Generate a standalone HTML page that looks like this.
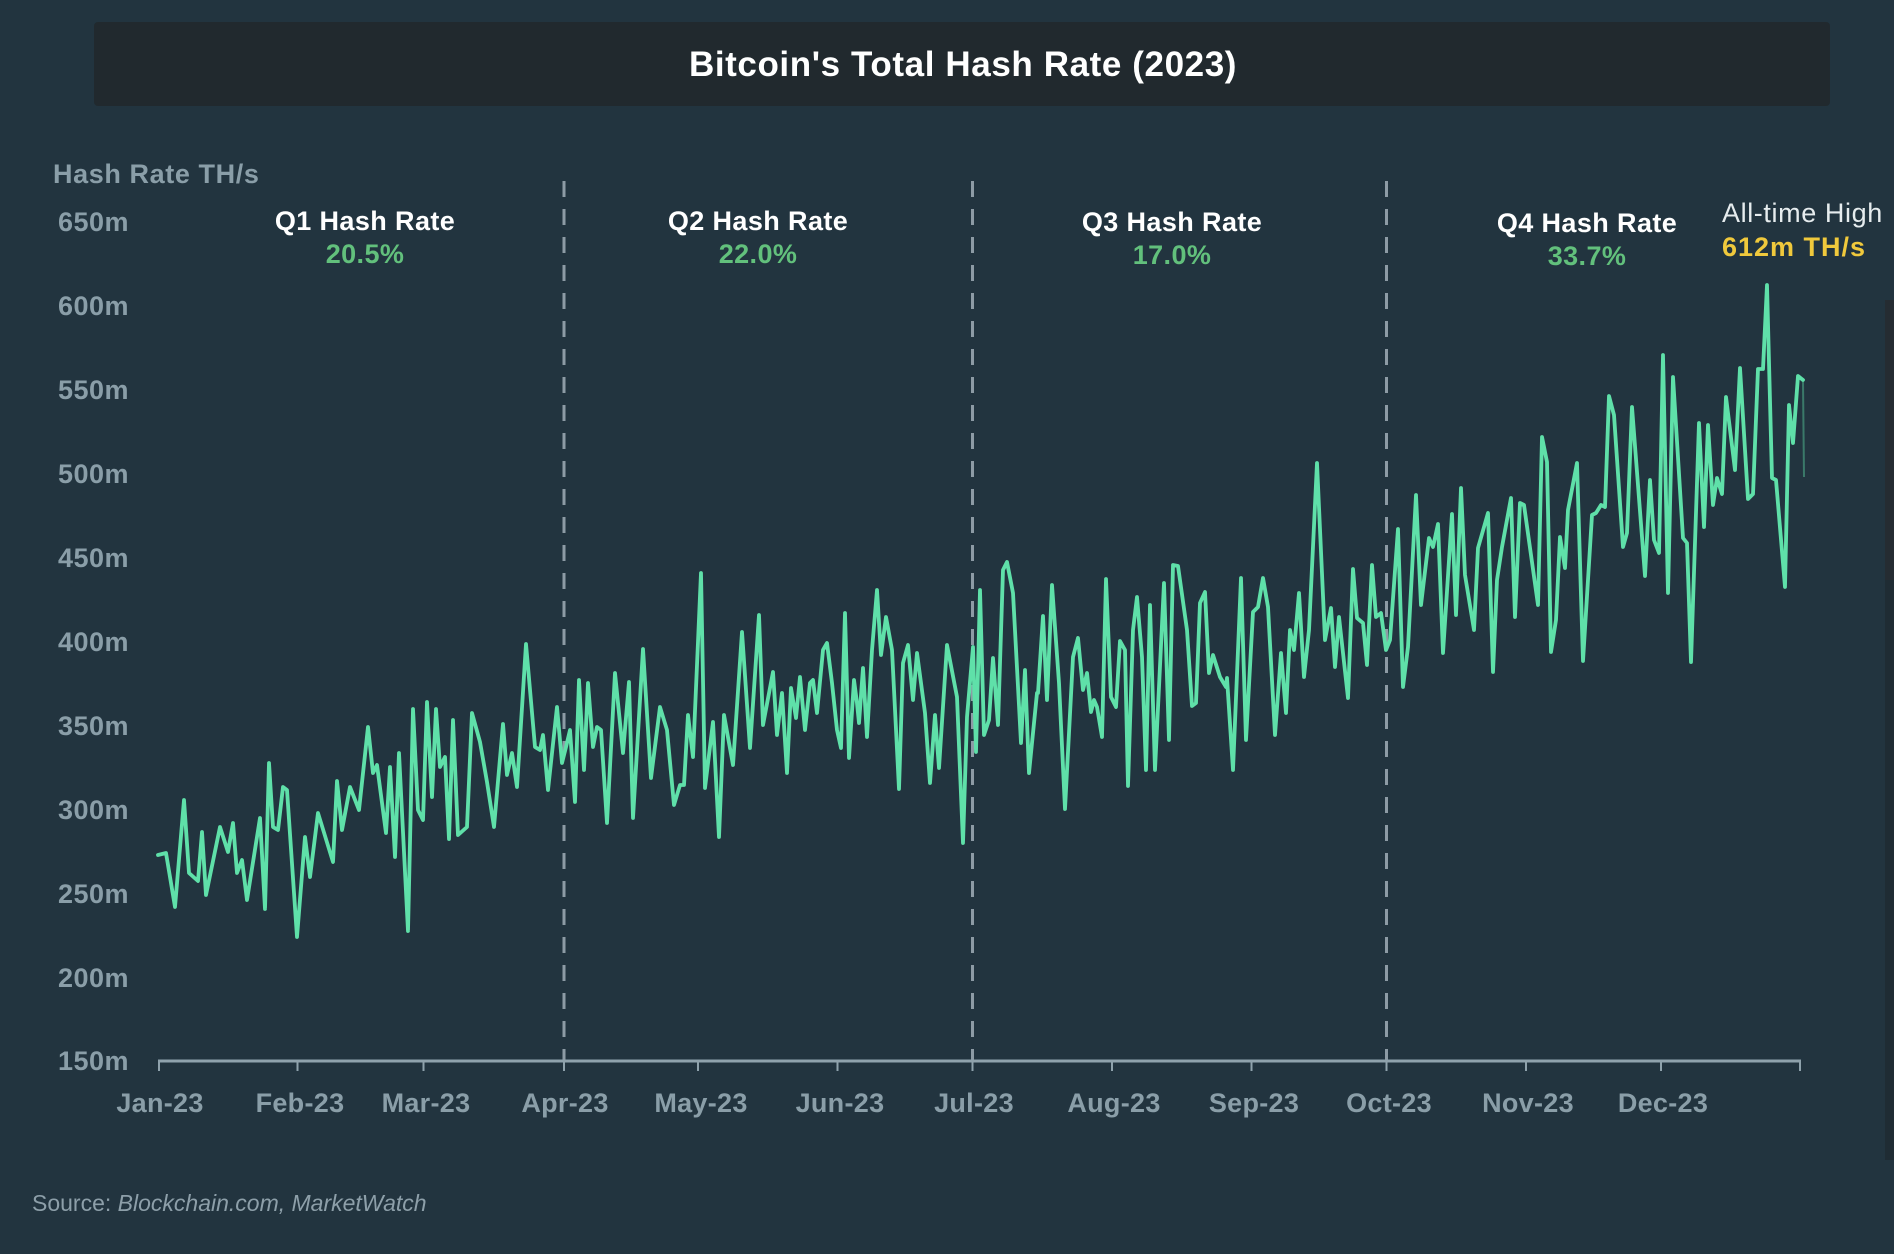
<!DOCTYPE html>
<html>
<head>
<meta charset="utf-8">
<style>
  html, body { margin: 0; padding: 0; background: #22343f; }
  body { width: 1894px; height: 1254px; overflow: hidden; }
  svg { display: block; }
  text { font-family: "Liberation Sans", sans-serif; }
</style>
</head>
<body>
<svg width="1894" height="1254" viewBox="0 0 1894 1254" xmlns="http://www.w3.org/2000/svg">
  <rect x="0" y="0" width="1894" height="1254" fill="#22343f"/>
  <!-- right edge strip -->
  <rect x="1885" y="300" width="9" height="280" fill="#252c32"/>
  <rect x="1885" y="580" width="9" height="580" fill="#1f2c34"/>

  <!-- Title box -->
  <rect x="94" y="22" width="1736" height="84" rx="4" fill="#21292e"/>
  <text x="963" y="76" text-anchor="middle" font-size="35" font-weight="bold" fill="#ffffff" letter-spacing="0.6">Bitcoin's Total Hash Rate (2023)</text>

  <!-- Y axis title -->
  <text x="53" y="183" font-size="27" font-weight="bold" fill="#8a9ea8" letter-spacing="0.6">Hash Rate TH/s</text>

  <!-- Y labels -->
  <g font-size="27" font-weight="bold" fill="#8a9ea8" text-anchor="end" letter-spacing="0.5">
    <text x="129" y="231">650m</text>
    <text x="129" y="315">600m</text>
    <text x="129" y="399">550m</text>
    <text x="129" y="483">500m</text>
    <text x="129" y="567">450m</text>
    <text x="129" y="651">400m</text>
    <text x="129" y="735">350m</text>
    <text x="129" y="819">300m</text>
    <text x="129" y="903">250m</text>
    <text x="129" y="987">200m</text>
    <text x="129" y="1070">150m</text>
  </g>

  <!-- Quarter dashed lines -->
  <g stroke="#8d9ba5" stroke-width="3" stroke-dasharray="16 12">
    <line x1="564" y1="181" x2="564" y2="1061"/>
    <line x1="972.5" y1="181" x2="972.5" y2="1061"/>
    <line x1="1386.5" y1="181" x2="1386.5" y2="1061"/>
  </g>

  <!-- Quarter labels -->
  <g font-size="27" font-weight="bold" text-anchor="middle" letter-spacing="0.4">
    <text x="365" y="230" fill="#ffffff">Q1 Hash Rate</text>
    <text x="365" y="263" fill="#62c07c">20.5%</text>
    <text x="758" y="230" fill="#ffffff">Q2 Hash Rate</text>
    <text x="758" y="263" fill="#62c07c">22.0%</text>
    <text x="1172" y="231" fill="#ffffff">Q3 Hash Rate</text>
    <text x="1172" y="264" fill="#62c07c">17.0%</text>
    <text x="1587" y="232" fill="#ffffff">Q4 Hash Rate</text>
    <text x="1587" y="265" fill="#62c07c">33.7%</text>
  </g>
  <text x="1722" y="222" font-size="27" fill="#e6ecee" letter-spacing="0.6">All-time High</text>
  <text x="1722" y="256" font-size="27" font-weight="bold" fill="#f0c93c" letter-spacing="1">612m TH/s</text>

  <!-- Axis -->
  <line x1="158" y1="1061" x2="1801" y2="1061" stroke="#8fa2ac" stroke-width="3"/>
  <g stroke="#8fa2ac" stroke-width="2">
    <line x1="159" y1="1061" x2="159" y2="1071"/>
    <line x1="297.5" y1="1061" x2="297.5" y2="1071"/>
    <line x1="423.5" y1="1061" x2="423.5" y2="1071"/>
    <line x1="564" y1="1061" x2="564" y2="1071"/>
    <line x1="698" y1="1061" x2="698" y2="1071"/>
    <line x1="837.5" y1="1061" x2="837.5" y2="1071"/>
    <line x1="972.5" y1="1061" x2="972.5" y2="1071"/>
    <line x1="1112" y1="1061" x2="1112" y2="1071"/>
    <line x1="1251.5" y1="1061" x2="1251.5" y2="1071"/>
    <line x1="1386.5" y1="1061" x2="1386.5" y2="1071"/>
    <line x1="1526" y1="1061" x2="1526" y2="1071"/>
    <line x1="1661" y1="1061" x2="1661" y2="1071"/>
    <line x1="1800" y1="1061" x2="1800" y2="1071"/>
  </g>

  <!-- X labels -->
  <g font-size="27" font-weight="bold" fill="#8a9ea8" text-anchor="middle" letter-spacing="0.3">
    <text x="160" y="1112">Jan-23</text>
    <text x="300" y="1112">Feb-23</text>
    <text x="426" y="1112">Mar-23</text>
    <text x="565" y="1112">Apr-23</text>
    <text x="701" y="1112">May-23</text>
    <text x="840" y="1112">Jun-23</text>
    <text x="974" y="1112">Jul-23</text>
    <text x="1114" y="1112">Aug-23</text>
    <text x="1254" y="1112">Sep-23</text>
    <text x="1389" y="1112">Oct-23</text>
    <text x="1528" y="1112">Nov-23</text>
    <text x="1663" y="1112">Dec-23</text>
  </g>

  <!-- Data line -->
  <polyline fill="none" stroke="#5fe0a9" stroke-width="3.8" stroke-linejoin="round" stroke-linecap="round" points="
158,855 166,853 175,907 184,800 189,873 198,881 202,832 206,895 220,827 228,852 233,823 237,873 242,860 247,900 260,818 265,909 269,763 273,827 278,830 283,787 287,790 297,937 305,837 310,877 318,813 333,862 337,781 342,830 350,787 359,810 368,727 373,773 377,765 386,833 390,767 395,857 399,753 408,931 413,709 418,810 423,820 427,702 432,797 436,709 440,767 445,757 449,839 453,720 458,835 467,827 472,713 480,742
487,782 494,827 503,724 507,775 512,753 517,787 526,644 535,747 540,750 543,735 548,790 557,707 562,763 566,747 570,730 575,802 579,680 584,770 588,683 593,747 597,727 601,730 607,823 615,673 623,753 629,682 633,818 643,649 651,778 660,707 667,730 674,805 680,785 684,785 688,715 693,757 701,573 705,788 713,722 719,837 724,715 733,765 742,632 750,748 759,615 763,725 773,672 777,735 782,693 787,773 791,688 796,718 800,677 805,730
810,683 813,680 817,713 823,650 827,643 832,683 837,730 841,748 845,613 849,758 854,680 857,703 859,723 863,668 867,737 872,650 877,590 881,655 886,617 892,650 899,789 903,663 908,645 913,700 917,653 925,713 930,783 935,715 939,768 947,645 957,697 963,843 967,717 973,647 976,752 980,590 984,735 989,720 993,658 998,725 1003,570 1007,562 1013,593 1021,743 1025,670 1029,773 1037,693 1038,693 1043,616 1047,700 1052,585 1059,683 1065,809 1073,657 1078,638 1083,690 1087,673 1091,712 1094,700 1097,707 1102,737 1106,579 1111,697 1116,707 1120,641 1125,650 1128,786 1133,630 1137,597 1142,657 1146,770
1150,605 1155,770 1164,583 1169,740 1173,565 1178,566 1187,630 1192,706 1196,703 1200,603 1205,592 1209,673 1213,655 1220,677 1226,687 1227,678 1233,770 1241,578 1246,740 1253,612 1258,607 1263,578 1268,607 1275,735 1281,653 1286,713 1290,630 1294,650 1299,593 1304,677 1309,630 1317,463 1325,640 1331,608 1335,667 1339,617 1348,698 1353,569 1357,618 1363,623 1367,665 1372,565 1376,617 1381,613 1386,650 1390,640 1398,529 1403,687 1408,647 1416,495 1421,605 1429,538 1433,547 1438,524 1443,653 1452,514 1456,615 1461,488 1465,575 1474,630
1478,548 1488,513 1493,672 1497,580 1502,547 1511,498 1515,617 1520,503 1524,505 1538,605 1542,437 1547,462 1551,652 1556,620 1560,537 1565,568 1568,510 1577,463 1583,661 1592,515 1596,513 1601,505 1605,507 1609,396 1614,415 1623,547 1627,533 1632,407 1645,576 1650,480 1654,540 1659,553 1663,355 1668,593 1673,377 1683,538 1687,543 1691,662 1699,423 1704,527 1708,425 1713,505 1717,478 1722,494 1726,397 1735,470 1740,368 1748,499 1753,494 1758,369 1763,369 1767,285 1772,478 1776,480 1785,587 1789,405 1793,443 1798,376 1803,380"/>
  <line x1="1803" y1="382" x2="1804" y2="477" stroke="#5fe0a9" stroke-width="2" opacity="0.4"/>

  <!-- Source -->
  <text x="32" y="1211" font-size="23" fill="#8d9fa9">Source: <tspan font-style="italic">Blockchain.com, MarketWatch</tspan></text>
</svg>
</body>
</html>
